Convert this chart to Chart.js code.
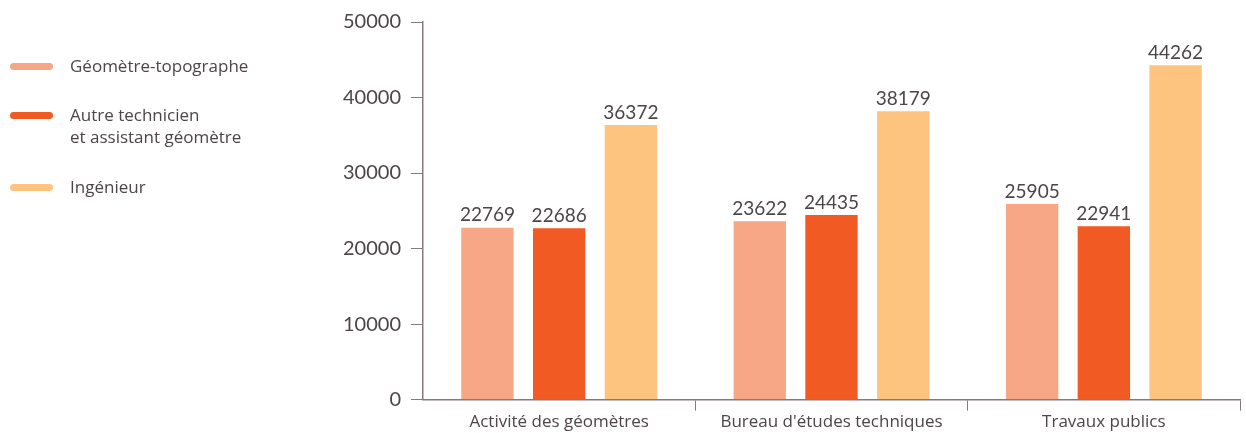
<!DOCTYPE html>
<html>
<head>
<meta charset="utf-8">
<script src="https://cdn.jsdelivr.net/npm/chart.js@4"></script>
<style>
  body { margin: 0; background: #fff; }
  #wrap { position: relative; width: 1246px; height: 433px; }
  #chart { position: absolute; left: 0; top: 0; }
  .legend { position: absolute; left: 0; top: 0; font-family: "Open Sans", sans-serif; font-size: 17px; color: #4d4546; }
  .item { position: absolute; left: 10px; white-space: nowrap; }
  .mark { position: absolute; left: 0; width: 43px; height: 7px; border-radius: 4px; }
  .txt { position: absolute; left: 60px; line-height: 22px; }
</style>
</head>
<body>
<div id="wrap">
  <canvas id="chart" width="1246" height="433"></canvas>
  <div class="legend" id="legend"></div>
</div>
<script>
// Données
const categories = ["Activité des géomètres", "Bureau d'études techniques", "Travaux publics"];
const seriesNames = [["Géomètre-topographe"], ["Autre technicien", "et assistant géomètre"], ["Ingénieur"]];
const geometreTopo = [22769, 23622, 25905];
const autreTechnicien = [22686, 24435, 22941];
const ingenieur = [36372, 38179, 44262];
const colors = ["#F7A686", "#F15A22", "#FDC47F"];

const textColor = "#4d4546";
const axisColor = "#857a7a";

// Légende HTML
const legendTops = [67, 116, 188];
const legend = document.getElementById("legend");
seriesNames.forEach((lines, i) => {
    const item = document.createElement("div");
    item.className = "item";
    item.style.top = legendTops[i] + "px";
    item.innerHTML = `<div class="mark" style="top:-4px;background:${colors[i]}"></div>
        <div class="txt" style="top:-12px">${lines.join("<br>")}</div>`;
    legend.appendChild(item);
});

// Étiquettes de valeurs au-dessus des barres
const valueLabels = {
    id: "valueLabels",
    afterDatasetsDraw(chart) {
        const ctx = chart.ctx;
        ctx.save();
        ctx.font = "19px Lato, sans-serif";
        ctx.fillStyle = textColor;
        ctx.textAlign = "center";
        ctx.textBaseline = "bottom";
        chart.data.datasets.forEach((ds, i) => {
            chart.getDatasetMeta(i).data.forEach((bar, j) => {
                ctx.fillText(String(ds.data[j]), bar.x, bar.y - 3);
            });
        });
        ctx.restore();
    }
};

new Chart(document.getElementById("chart"), {
    type: "bar",
    data: {
        labels: categories,
        datasets: [
            { label: seriesNames[0].join(" "), data: geometreTopo, backgroundColor: colors[0] },
            { label: seriesNames[1].join(" "), data: autreTechnicien, backgroundColor: colors[1] },
            { label: seriesNames[2].join(" "), data: ingenieur, backgroundColor: colors[2] },
        ],
    },
    options: {
        responsive: false,
        animation: false,
        categoryPercentage: 0.79,
        barPercentage: 0.73,
        layout: { padding: { left: 330, right: 6, top: 12, bottom: 0 } },
        plugins: {
            legend: { display: false },
            tooltip: { enabled: false },
        },
        scales: {
            x: {
                grid: {
                    drawOnChartArea: false,
                    tickLength: 11,
                    color: (c) => c.index === 0 ? "rgba(0,0,0,0)" : axisColor,
                },
                border: { color: axisColor, width: 1.5 },
                ticks: { color: textColor, font: { family: "Open Sans", size: 17 }, padding: 1 },
            },
            y: {
                min: 0,
                max: 50000,
                afterFit: (scale) => { scale.width = 93; },
                ticks: {
                    stepSize: 10000,
                    color: textColor,
                    font: { family: "Lato", size: 20 },
                    padding: 10,
                    callback: (v) => String(v),
                },
                grid: { drawOnChartArea: false, tickLength: 12, color: axisColor },
                border: { color: axisColor, width: 1.5 },
            },
        },
    },
    plugins: [valueLabels],
});
</script>
</body>
</html>
